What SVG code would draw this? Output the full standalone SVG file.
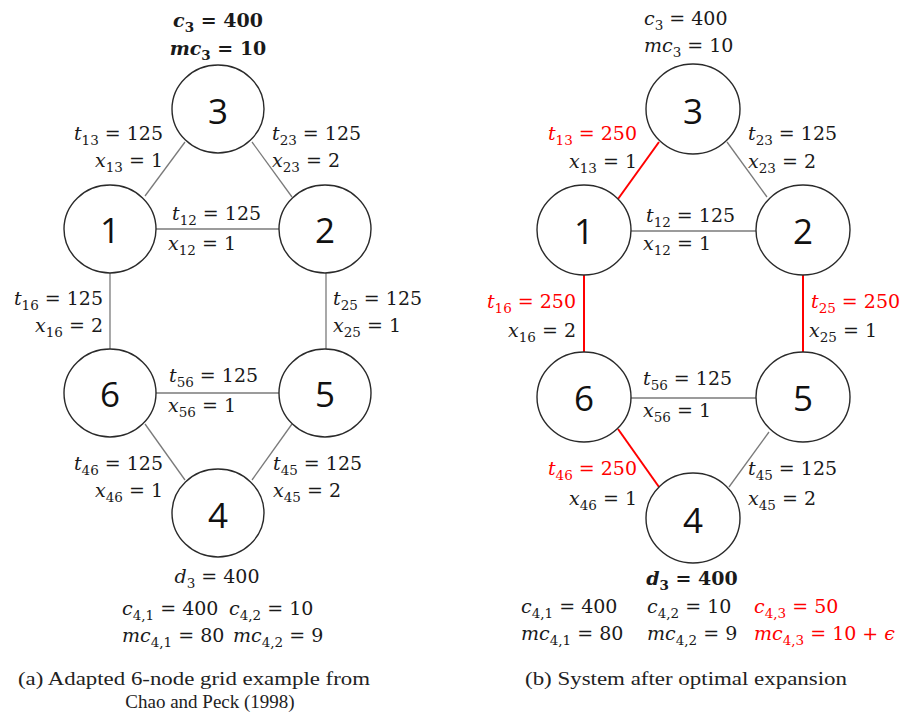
<svg xmlns="http://www.w3.org/2000/svg" width="902" height="716" viewBox="0 0 902 716">
<style>
.bg{fill:#fff}
.node{fill:#fff;stroke:#2a2a2a;stroke-width:1.4}
.num{font-family:"Open Sans","Liberation Sans",sans-serif;font-size:35px;fill:#111;text-anchor:middle}
.e{stroke:#7a7a7a;stroke-width:1.3;fill:none}
.er{stroke:#f00;stroke-width:2;fill:none}
.m{font-family:"DejaVu Serif",serif;font-size:19px;fill:#1a1a1a}
.i{font-style:italic}
.s{font-size:13.5px}
.b{font-weight:bold}
.red{fill:#f00}
.cap{font-family:"Liberation Serif","Times New Roman",serif;font-size:19px;fill:#222}
</style>
<rect class="bg" x="0" y="0" width="902" height="716"/>

<g id="connectors">
  <line class="e" x1="145" y1="196" x2="185" y2="142"/>
  <line class="e" x1="252" y1="142" x2="292" y2="197"/>
  <line class="e" x1="156" y1="229" x2="279" y2="229"/>
  <line class="e" x1="110" y1="273" x2="110" y2="349"/>
  <line class="e" x1="326" y1="273" x2="326" y2="349"/>
  <line class="e" x1="156" y1="393" x2="279" y2="393"/>
  <line class="e" x1="145" y1="424" x2="185" y2="480"/>
  <line class="e" x1="292" y1="424" x2="252" y2="480"/>

  <line class="er" x1="618" y1="199" x2="659" y2="142"/>
  <line class="e" x1="727" y1="142" x2="767" y2="197"/>
  <line class="e" x1="631" y1="231" x2="756" y2="231"/>
  <line class="er" x1="584" y1="275" x2="584" y2="353"/>
  <line class="er" x1="803" y1="275" x2="803" y2="353"/>
  <line class="e" x1="631" y1="398" x2="756" y2="398"/>
  <line class="er" x1="618" y1="429" x2="659" y2="487"/>
  <line class="e" x1="769" y1="432" x2="729" y2="487"/>
</g>

<g id="a-node3"><ellipse class="node" cx="218" cy="109" rx="46" ry="44"/><text class="num" x="218" y="124">3</text></g>
<g id="a-node1"><ellipse class="node" cx="110" cy="229" rx="46" ry="44"/><text class="num" x="110" y="243">1</text></g>
<g id="a-node2"><ellipse class="node" cx="325" cy="229" rx="46" ry="44"/><text class="num" x="325" y="243">2</text></g>
<g id="a-node6"><ellipse class="node" cx="110" cy="393" rx="46" ry="44"/><text class="num" x="110" y="407">6</text></g>
<g id="a-node5"><ellipse class="node" cx="325" cy="393" rx="46" ry="44"/><text class="num" x="325" y="407">5</text></g>
<g id="a-node4"><ellipse class="node" cx="218" cy="513" rx="46" ry="44"/><text class="num" x="218" y="528">4</text></g>

<g id="b-node3"><ellipse class="node" cx="693" cy="109" rx="47" ry="45"/><text class="num" x="693" y="124">3</text></g>
<g id="b-node1"><ellipse class="node" cx="584" cy="230" rx="47" ry="45"/><text class="num" x="584" y="244">1</text></g>
<g id="b-node2"><ellipse class="node" cx="803" cy="230" rx="47" ry="45"/><text class="num" x="803" y="244">2</text></g>
<g id="b-node6"><ellipse class="node" cx="584" cy="397" rx="47" ry="45"/><text class="num" x="584" y="411">6</text></g>
<g id="b-node5"><ellipse class="node" cx="803" cy="397" rx="47" ry="45"/><text class="num" x="803" y="411">5</text></g>
<g id="b-node4"><ellipse class="node" cx="693" cy="518" rx="47" ry="45"/><text class="num" x="693" y="533">4</text></g>

<g id="a-labels">
  <text class="m b" x="218" y="27" text-anchor="middle"><tspan class="i">c</tspan><tspan class="s" dy="5">3</tspan><tspan dy="-5"> = 400</tspan></text>
  <text class="m b" x="218" y="55" text-anchor="middle"><tspan class="i">mc</tspan><tspan class="s" dy="5">3</tspan><tspan dy="-5"> = 10</tspan></text>
  <text class="m" x="163" y="140" text-anchor="end"><tspan class="i">t</tspan><tspan class="s" dy="5">13</tspan><tspan dy="-5"> = 125</tspan></text>
  <text class="m" x="163" y="167" text-anchor="end"><tspan class="i">x</tspan><tspan class="s" dy="5">13</tspan><tspan dy="-5"> = 1</tspan></text>
  <text class="m" x="272" y="140"><tspan class="i">t</tspan><tspan class="s" dy="5">23</tspan><tspan dy="-5"> = 125</tspan></text>
  <text class="m" x="272" y="167"><tspan class="i">x</tspan><tspan class="s" dy="5">23</tspan><tspan dy="-5"> = 2</tspan></text>
  <text class="m" x="172" y="220"><tspan class="i">t</tspan><tspan class="s" dy="5">12</tspan><tspan dy="-5"> = 125</tspan></text>
  <text class="m" x="168" y="250"><tspan class="i">x</tspan><tspan class="s" dy="5">12</tspan><tspan dy="-5"> = 1</tspan></text>
  <text class="m" x="103" y="305" text-anchor="end"><tspan class="i">t</tspan><tspan class="s" dy="5">16</tspan><tspan dy="-5"> = 125</tspan></text>
  <text class="m" x="103" y="332" text-anchor="end"><tspan class="i">x</tspan><tspan class="s" dy="5">16</tspan><tspan dy="-5"> = 2</tspan></text>
  <text class="m" x="333" y="305"><tspan class="i">t</tspan><tspan class="s" dy="5">25</tspan><tspan dy="-5"> = 125</tspan></text>
  <text class="m" x="333" y="332"><tspan class="i">x</tspan><tspan class="s" dy="5">25</tspan><tspan dy="-5"> = 1</tspan></text>
  <text class="m" x="169" y="382"><tspan class="i">t</tspan><tspan class="s" dy="5">56</tspan><tspan dy="-5"> = 125</tspan></text>
  <text class="m" x="168" y="412"><tspan class="i">x</tspan><tspan class="s" dy="5">56</tspan><tspan dy="-5"> = 1</tspan></text>
  <text class="m" x="163" y="470" text-anchor="end"><tspan class="i">t</tspan><tspan class="s" dy="5">46</tspan><tspan dy="-5"> = 125</tspan></text>
  <text class="m" x="163" y="497" text-anchor="end"><tspan class="i">x</tspan><tspan class="s" dy="5">46</tspan><tspan dy="-5"> = 1</tspan></text>
  <text class="m" x="273" y="470"><tspan class="i">t</tspan><tspan class="s" dy="5">45</tspan><tspan dy="-5"> = 125</tspan></text>
  <text class="m" x="273" y="497"><tspan class="i">x</tspan><tspan class="s" dy="5">45</tspan><tspan dy="-5"> = 2</tspan></text>
  <text class="m" x="217" y="583" text-anchor="middle"><tspan class="i">d</tspan><tspan class="s" dy="5">3</tspan><tspan dy="-5"> = 400</tspan></text>
  <text class="m" x="122" y="615"><tspan class="i">c</tspan><tspan class="s" dy="5">4,1</tspan><tspan dy="-5"> = 400</tspan></text>
  <text class="m" x="229" y="615"><tspan class="i">c</tspan><tspan class="s" dy="5">4,2</tspan><tspan dy="-5"> = 10</tspan></text>
  <text class="m" x="122" y="642"><tspan class="i">mc</tspan><tspan class="s" dy="5">4,1</tspan><tspan dy="-5"> = 80</tspan></text>
  <text class="m" x="233" y="642"><tspan class="i">mc</tspan><tspan class="s" dy="5">4,2</tspan><tspan dy="-5"> = 9</tspan></text>
</g>

<g id="b-labels">
  <text class="m" x="644" y="25"><tspan class="i">c</tspan><tspan class="s" dy="5">3</tspan><tspan dy="-5"> = 400</tspan></text>
  <text class="m" x="644" y="52"><tspan class="i">mc</tspan><tspan class="s" dy="5">3</tspan><tspan dy="-5"> = 10</tspan></text>
  <text class="m red" x="637" y="140" text-anchor="end"><tspan class="i">t</tspan><tspan class="s" dy="5">13</tspan><tspan dy="-5"> = 250</tspan></text>
  <text class="m" x="637" y="168" text-anchor="end"><tspan class="i">x</tspan><tspan class="s" dy="5">13</tspan><tspan dy="-5"> = 1</tspan></text>
  <text class="m" x="748" y="140"><tspan class="i">t</tspan><tspan class="s" dy="5">23</tspan><tspan dy="-5"> = 125</tspan></text>
  <text class="m" x="748" y="168"><tspan class="i">x</tspan><tspan class="s" dy="5">23</tspan><tspan dy="-5"> = 2</tspan></text>
  <text class="m" x="646" y="222"><tspan class="i">t</tspan><tspan class="s" dy="5">12</tspan><tspan dy="-5"> = 125</tspan></text>
  <text class="m" x="643" y="250"><tspan class="i">x</tspan><tspan class="s" dy="5">12</tspan><tspan dy="-5"> = 1</tspan></text>
  <text class="m red" x="576" y="308" text-anchor="end"><tspan class="i">t</tspan><tspan class="s" dy="5">16</tspan><tspan dy="-5"> = 250</tspan></text>
  <text class="m" x="576" y="337" text-anchor="end"><tspan class="i">x</tspan><tspan class="s" dy="5">16</tspan><tspan dy="-5"> = 2</tspan></text>
  <text class="m red" x="811" y="308"><tspan class="i">t</tspan><tspan class="s" dy="5">25</tspan><tspan dy="-5"> = 250</tspan></text>
  <text class="m" x="809" y="337"><tspan class="i">x</tspan><tspan class="s" dy="5">25</tspan><tspan dy="-5"> = 1</tspan></text>
  <text class="m" x="643" y="385"><tspan class="i">t</tspan><tspan class="s" dy="5">56</tspan><tspan dy="-5"> = 125</tspan></text>
  <text class="m" x="643" y="417"><tspan class="i">x</tspan><tspan class="s" dy="5">56</tspan><tspan dy="-5"> = 1</tspan></text>
  <text class="m red" x="637" y="475" text-anchor="end"><tspan class="i">t</tspan><tspan class="s" dy="5">46</tspan><tspan dy="-5"> = 250</tspan></text>
  <text class="m" x="637" y="505" text-anchor="end"><tspan class="i">x</tspan><tspan class="s" dy="5">46</tspan><tspan dy="-5"> = 1</tspan></text>
  <text class="m" x="748" y="475"><tspan class="i">t</tspan><tspan class="s" dy="5">45</tspan><tspan dy="-5"> = 125</tspan></text>
  <text class="m" x="748" y="505"><tspan class="i">x</tspan><tspan class="s" dy="5">45</tspan><tspan dy="-5"> = 2</tspan></text>
  <text class="m b" x="692" y="585" text-anchor="middle"><tspan class="i">d</tspan><tspan class="s" dy="5">3</tspan><tspan dy="-5"> = 400</tspan></text>
  <text class="m" x="521" y="613"><tspan class="i">c</tspan><tspan class="s" dy="5">4,1</tspan><tspan dy="-5"> = 400</tspan></text>
  <text class="m" x="647" y="613"><tspan class="i">c</tspan><tspan class="s" dy="5">4,2</tspan><tspan dy="-5"> = 10</tspan></text>
  <text class="m red" x="754" y="613"><tspan class="i">c</tspan><tspan class="s" dy="5">4,3</tspan><tspan dy="-5"> = 50</tspan></text>
  <text class="m" x="521" y="640"><tspan class="i">mc</tspan><tspan class="s" dy="5">4,1</tspan><tspan dy="-5"> = 80</tspan></text>
  <text class="m" x="647" y="640"><tspan class="i">mc</tspan><tspan class="s" dy="5">4,2</tspan><tspan dy="-5"> = 9</tspan></text>
  <text class="m red" x="754" y="640"><tspan class="i">mc</tspan><tspan class="s" dy="5">4,3</tspan><tspan dy="-5"> = 10 + </tspan><tspan class="i">ϵ</tspan></text>
</g>

<g id="captions">
  <text class="cap" x="18" y="685" textLength="352" lengthAdjust="spacingAndGlyphs">(a) Adapted 6-node grid example from</text>
  <text class="cap" x="210" y="708" text-anchor="middle" font-size="17">Chao and Peck (1998)</text>
  <text class="cap" x="525" y="685" textLength="322" lengthAdjust="spacingAndGlyphs">(b) System after optimal expansion</text>
</g>
</svg>
